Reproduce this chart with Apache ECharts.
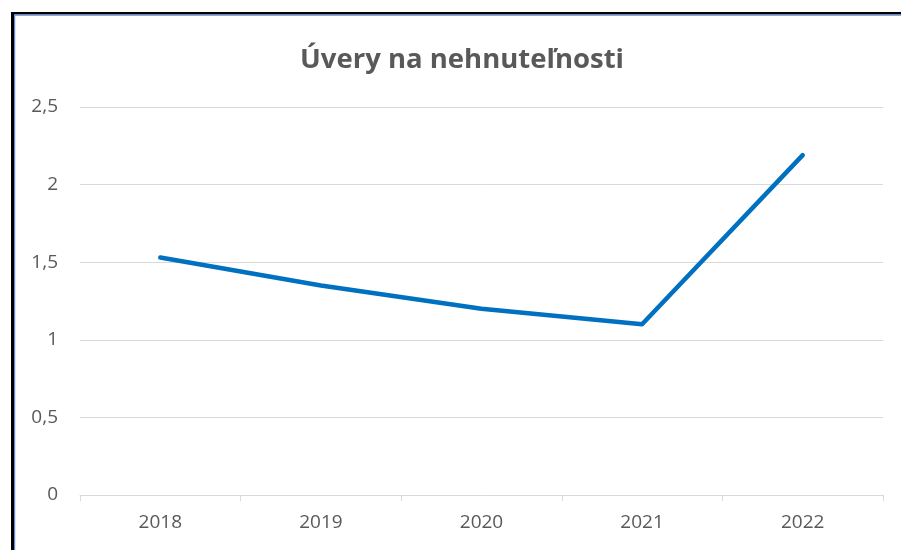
<!DOCTYPE html>
<html>
<head>
<meta charset="utf-8">
<script src="https://cdn.jsdelivr.net/npm/echarts@6/dist/echarts.min.js"></script>
<style>
html,body{margin:0;padding:0;background:#fff;}
#chart{width:901px;height:550px;}
</style>
</head>
<body>
<div id="chart"></div>
<script>
const title = 'Úvery na nehnuteľnosti';
const categories = ['2018', '2019', '2020', '2021', '2022'];
const values = [1.53, 1.35, 1.2, 1.1, 2.19];

const chart = echarts.init(document.getElementById('chart'), null, {renderer: 'canvas'});
const fmt = v => String(v).replace('.', ',');
chart.setOption({
  animation: false,
  backgroundColor: '#ffffff',
  title: {
    text: title,
    left: 457,
    textAlign: 'center',
    top: 41,
    textStyle: {fontFamily: 'Open Sans', fontWeight: 'bold', fontSize: 27.5, color: '#595959'}
  },
  grid: {left: 80, right: 18, top: 107, bottom: 55, containLabel: false},
  xAxis: {
    type: 'category',
    data: categories,
    boundaryGap: true,
    axisLine: {lineStyle: {color: '#d9d9d9', width: 1}},
    axisTick: {show: true, length: 6, lineStyle: {color: '#d9d9d9'}},
    axisLabel: {fontFamily: 'Open Sans', fontSize: 19, color: '#595959', margin: 18}
  },
  yAxis: {
    type: 'value',
    min: 0, max: 2.5, interval: 0.5,
    axisLine: {show: false},
    axisTick: {show: false},
    splitLine: {lineStyle: {color: '#d9d9d9', width: 1}},
    axisLabel: {fontFamily: 'Open Sans', fontSize: 19, color: '#595959', margin: 22, formatter: fmt}
  },
  series: [{
    type: 'line',
    data: values,
    symbol: 'none',
    smooth: false,
    lineStyle: {color: '#0070c0', width: 4.5, cap: 'round', join: 'round'}
  }],
  graphic: [
    {type: 'rect', shape: {x: 11, y: 12, width: 3, height: 540}, style: {fill: '#000'}, z: 100},
    {type: 'rect', shape: {x: 11, y: 12, width: 890, height: 2.5}, style: {fill: '#000'}, z: 100},
    {type: 'rect', shape: {x: 14, y: 14.5, width: 1.2, height: 540}, style: {fill: '#5b8fd6'}, z: 100},
    {type: 'rect', shape: {x: 14, y: 14.5, width: 890, height: 1.2}, style: {fill: '#5b8fd6'}, z: 100}
  ]
});
</script>
</body>
</html>
